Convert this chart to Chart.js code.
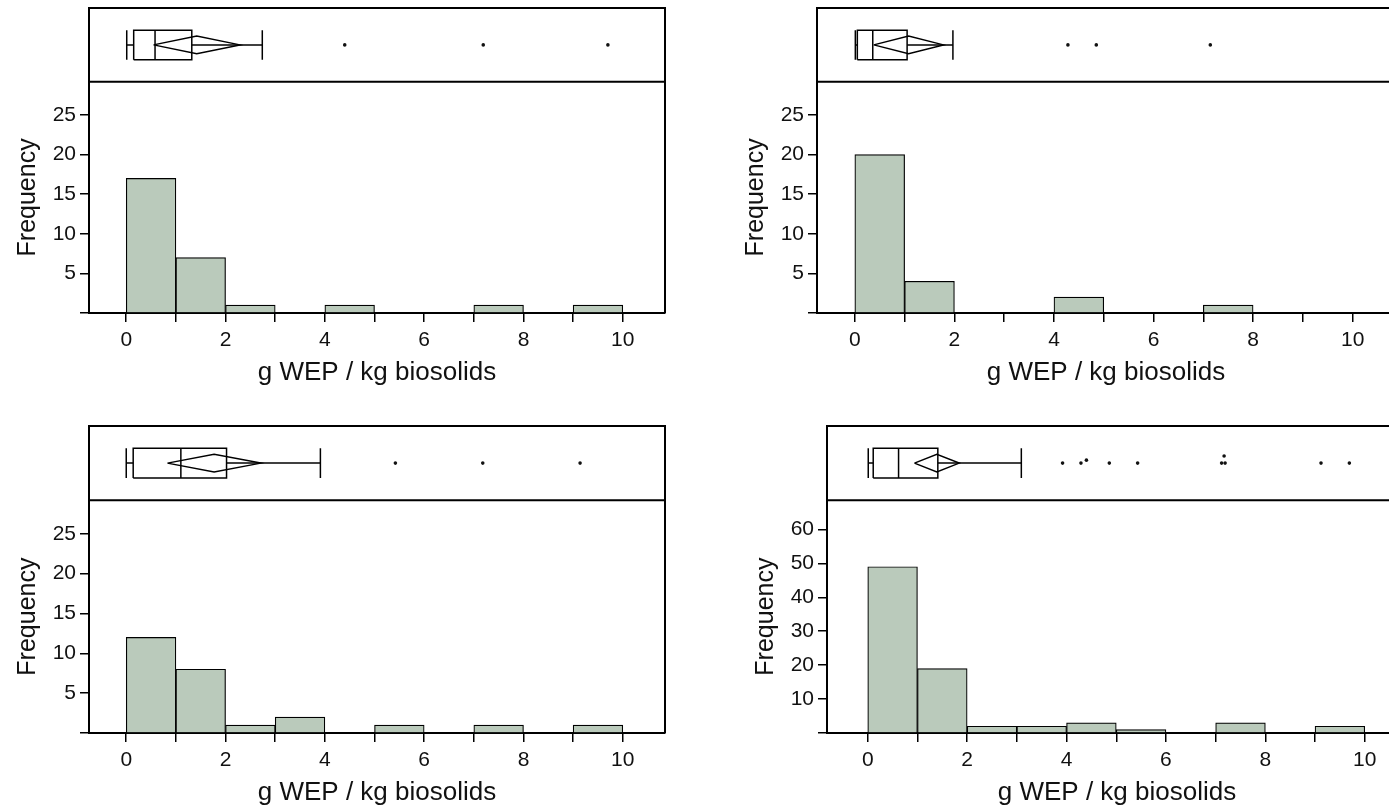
<!DOCTYPE html>
<html>
<head>
<meta charset="utf-8">
<script src="https://cdn.jsdelivr.net/npm/chart.js@4.4.1/dist/chart.umd.min.js"></script>
<style>
  html, body { margin: 0; padding: 0; background: #fff; overflow: hidden; width: 1389px; height: 807px; }
  canvas { position: absolute; }
</style>
</head>
<body>
<canvas id="panelA" width="680" height="400" style="left:0px;top:0px"></canvas>
<canvas id="panelB" width="682" height="400" style="left:728px;top:0px"></canvas>
<canvas id="panelC" width="680" height="402" style="left:0px;top:418px"></canvas>
<canvas id="panelD" width="684" height="402" style="left:738px;top:418px"></canvas>
<script>
// histogram bins, 1 g wide
const binMids = [0.5, 1.5, 2.5, 3.5, 4.5, 5.5, 6.5, 7.5, 8.5, 9.5];
const countsA = [17, 7, 1, 0, 1, 0, 0, 1, 0, 1];
const countsB = [20, 4, 0, 0, 2, 0, 0, 1, 0, 0];
const countsC = [12, 8, 1, 2, 0, 1, 0, 1, 0, 1];
const countsD = [49, 19, 2, 2, 3, 1, 0, 3, 0, 2];

// box plot stats, one entry per panel (A, B, C, D)
const whiskerLo = [0.01, 0.01, 0.00, 0.01];
const q1 = [0.15, 0.05, 0.14, 0.11];
const median = [0.58, 0.36, 1.10, 0.62];
const q3 = [1.32, 1.05, 2.02, 1.41];
const whiskerHi = [2.74, 1.97, 3.91, 3.09];
const mean = [1.42, 1.08, 1.77, 1.39];
const ciLo = [0.55, 0.38, 0.83, 0.94];
const ciHi = [2.29, 1.78, 2.71, 1.84];

// outliers + small vertical jitter where points overlap
const outliersA = [4.40, 7.19, 9.70];
const outliersB = [4.28, 4.85, 7.14];
const outliersC = [5.42, 7.18, 9.14];
const outliersD = [3.92, 4.29, 4.40, 4.86, 5.43, 7.12, 7.19, 7.17, 9.12, 9.69];
const liftD = [0, 0, 0.08, 0, 0, 0, 0, 0.19, 0, 0];

const BOX_HALF = 0.4;
const DIAMOND_HALF = 0.24;
const FONT = "'Liberation Sans', Arial, sans-serif";

// top border, right border and the line between box plot and histogram
const framePlugin = {
    id: "frame",
    afterDraw(chart) {
        const { ctx, chartArea: a } = chart;
        const div = chart.scales.yBox.bottom;
        ctx.save();
        ctx.strokeStyle = "#000";
        ctx.lineWidth = 2;
        ctx.beginPath();
        ctx.moveTo(a.left, a.top);
        ctx.lineTo(a.right, a.top);
        ctx.lineTo(a.right, a.bottom);
        ctx.moveTo(a.left, div);
        ctx.lineTo(a.right, div);
        ctx.stroke();
        ctx.restore();
    },
};

// drop the label overhang padding so the frame sits where we put it
function noPad(s) {
    s.paddingTop = 0;
    s.paddingBottom = 0;
    s.paddingLeft = 0;
    s.paddingRight = 0;
}

function boxLine(points) {
    return {
        type: "line", yAxisID: "yBox", data: points,
        borderColor: "#000", borderWidth: 1.5, pointRadius: 0, fill: false,
        borderJoinStyle: "miter",
    };
}

function boxDatasets(i, outliers, lift) {
    const h = BOX_HALF, d = DIAMOND_HALF;
    return [
        boxLine([{ x: q1[i], y: -h }, { x: q3[i], y: -h }, { x: q3[i], y: h }, { x: q1[i], y: h }, { x: q1[i], y: -h }]),
        boxLine([{ x: median[i], y: -h }, { x: median[i], y: h }]),
        boxLine([{ x: whiskerLo[i], y: 0 }, { x: q1[i], y: 0 }]),
        boxLine([{ x: q3[i], y: 0 }, { x: whiskerHi[i], y: 0 }]),
        boxLine([{ x: whiskerLo[i], y: -h }, { x: whiskerLo[i], y: h }]),
        boxLine([{ x: whiskerHi[i], y: -h }, { x: whiskerHi[i], y: h }]),
        boxLine([{ x: ciLo[i], y: 0 }, { x: mean[i], y: d }, { x: ciHi[i], y: 0 }, { x: mean[i], y: -d }, { x: ciLo[i], y: 0 }]),
        {
            type: "scatter", yAxisID: "yBox",
            data: outliers.map((v, k) => ({ x: v, y: lift ? lift[k] : 0 })),
            pointRadius: 1.8, pointBackgroundColor: "#111", pointBorderWidth: 0,
        },
    ];
}

function makePanel(id, i, counts, outliers, lift, yMax, yStep, xMin) {
    return new Chart(document.getElementById(id), {
        type: "bar",
        data: {
            datasets: [
                {
                    type: "bar", yAxisID: "y",
                    data: binMids.map((m, k) => ({ x: m, y: counts[k] })),
                    backgroundColor: "#bacabb", borderColor: "#000", borderWidth: 1.2,
                    categoryPercentage: 1, barPercentage: 1,
                },
                ...boxDatasets(i, outliers, lift),
            ],
        },
        options: {
            responsive: false,
            animation: false,
            layout: { padding: { left: 0, right: 15, top: 8, bottom: 0 } },
            plugins: { legend: { display: false }, tooltip: { enabled: false } },
            scales: {
                x: {
                    type: "linear", min: xMin, max: 10.85, offset: false,
                    afterFit: (s) => { s.height = 87; noPad(s); },
                    grid: { offset: false, drawOnChartArea: false, tickLength: 9, color: "#000", lineWidth: 1.5 },
                    border: { color: "#000", width: 2 },
                    ticks: {
                        stepSize: 1, includeBounds: false, autoSkip: false, maxRotation: 0, padding: 6,
                        color: "#111", font: { family: FONT, size: 21 },
                        callback: (v) => (v % 2 === 0 ? v : ""),
                    },
                    title: {
                        display: true, text: "g WEP / kg biosolids", color: "#111",
                        font: { family: FONT, size: 26 }, padding: { top: 0, bottom: 12 },
                    },
                },
                y: {
                    type: "linear", stack: "panel", stackWeight: 232, min: 0, max: yMax,
                    afterFit: (s) => { s.width = 89; noPad(s); },
                    grid: { drawOnChartArea: false, tickLength: 9, color: "#000", lineWidth: 1.5 },
                    border: { color: "#000", width: 2 },
                    ticks: {
                        stepSize: yStep, includeBounds: false, autoSkip: false, padding: 4,
                        color: "#111", font: { family: FONT, size: 21 },
                        callback: (v) => (v === 0 ? "" : v),
                    },
                    title: {
                        display: true, text: "Frequency", color: "#111",
                        font: { family: FONT, size: 25 }, padding: { top: 13, bottom: 0 },
                    },
                },
                yBox: {
                    type: "linear", stack: "panel", stackWeight: 74, min: -1, max: 1,
                    afterFit: noPad,
                    grid: { display: false },
                    border: { color: "#000", width: 2 },
                    ticks: { display: false },
                },
            },
        },
        plugins: [framePlugin],
    });
}

makePanel("panelA", 0, countsA, outliersA, null, 29.2, 5, -0.75);
makePanel("panelB", 1, countsB, outliersB, null, 29.2, 5, -0.76);
makePanel("panelC", 2, countsC, outliersC, null, 29.2, 5, -0.75);
makePanel("panelD", 3, countsD, outliersD, liftD, 68.6, 10, -0.82);
</script>
</body>
</html>
